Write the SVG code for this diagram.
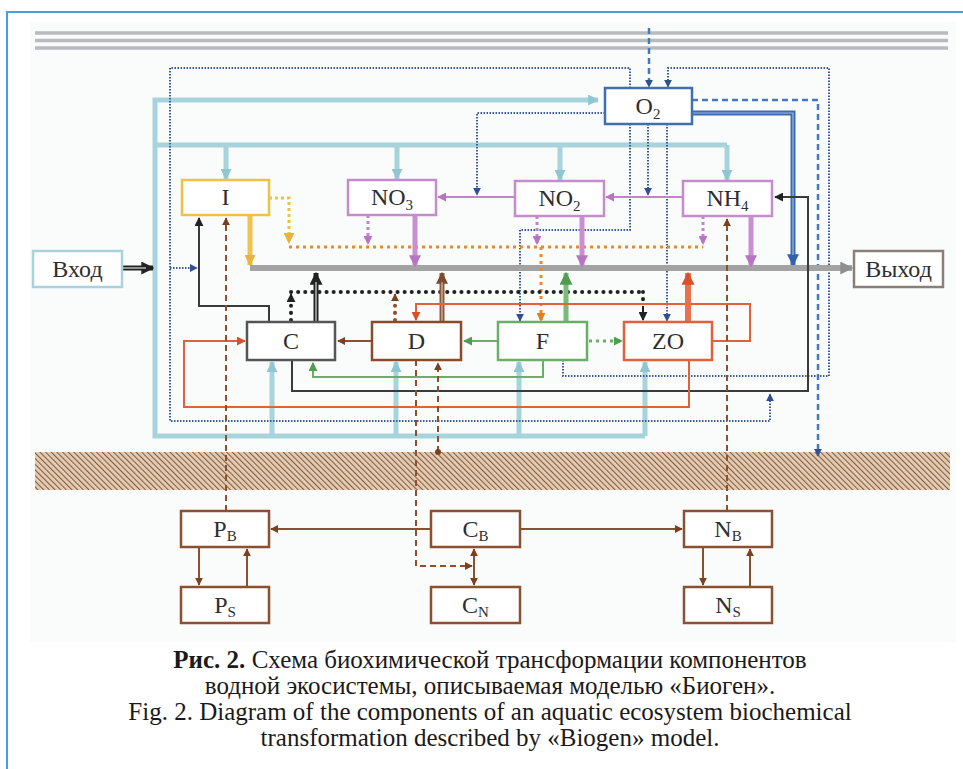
<svg xmlns="http://www.w3.org/2000/svg" width="963" height="769" viewBox="0 0 963 769">
<style>
.box{fill:#fff;stroke-width:2.5}
.lbl{font-family:"Liberation Serif","DejaVu Serif",serif;font-size:24px;fill:#2e2e2e;text-anchor:middle}
.sub{font-size:15px}
.cap{font-family:"Liberation Serif","DejaVu Serif",serif;font-size:25px;fill:#1a1a1a;text-anchor:middle}
.n{fill:none}
.teal{stroke:#a6d3dc;stroke-width:5}
.bdot{stroke:#3a5a9c;stroke-width:2;stroke-dasharray:1.5 1.5}
.bdash{stroke:#4677c2;stroke-width:2.5;stroke-dasharray:6 4}
.bdn{stroke:#8b5030;stroke-width:2;stroke-dasharray:6 4}
.brn{stroke:#8b5030;stroke-width:2}
.dots{stroke-width:4;stroke-linecap:round;stroke-dasharray:0.1 7}
</style>
<defs>
<pattern id="hatch" width="4" height="4" patternUnits="userSpaceOnUse" patternTransform="rotate(-45)">
<rect width="4" height="4" fill="#e2cdb8"/><line x1="0" y1="0" x2="0" y2="4" stroke="#8e5c36" stroke-width="2.2"/>
</pattern>
<marker id="aT" viewBox="0 0 10 10" refX="9" refY="5" markerWidth="11" markerHeight="11" markerUnits="userSpaceOnUse" orient="auto"><path d="M0,0 L10,5 L0,10 z" fill="#8fc6d2"/></marker>
<marker id="aB" viewBox="0 0 10 10" refX="9" refY="5" markerWidth="8" markerHeight="8" markerUnits="userSpaceOnUse" orient="auto"><path d="M0,0 L10,5 L0,10 z" fill="#2f4f8f"/></marker>
<marker id="aBB" viewBox="0 0 10 10" refX="9" refY="5" markerWidth="12" markerHeight="12" markerUnits="userSpaceOnUse" orient="auto"><path d="M0,0 L10,5 L0,10 z" fill="#2f62ad"/></marker>
<marker id="aG" viewBox="0 0 10 10" refX="9" refY="5" markerWidth="13" markerHeight="13" markerUnits="userSpaceOnUse" orient="auto"><path d="M0,0 L10,5 L0,10 z" fill="#8f8f8f"/></marker>
<marker id="aY" viewBox="0 0 10 10" refX="9" refY="5" markerWidth="11" markerHeight="11" markerUnits="userSpaceOnUse" orient="auto"><path d="M0,0 L10,5 L0,10 z" fill="#e8b43a"/></marker>
<marker id="aO" viewBox="0 0 10 10" refX="9" refY="5" markerWidth="9" markerHeight="9" markerUnits="userSpaceOnUse" orient="auto"><path d="M0,0 L10,5 L0,10 z" fill="#e07f22"/></marker>
<marker id="aP" viewBox="0 0 10 10" refX="9" refY="5" markerWidth="9" markerHeight="9" markerUnits="userSpaceOnUse" orient="auto"><path d="M0,0 L10,5 L0,10 z" fill="#b774c2"/></marker>
<marker id="aPB" viewBox="0 0 10 10" refX="9" refY="5" markerWidth="12" markerHeight="12" markerUnits="userSpaceOnUse" orient="auto"><path d="M0,0 L10,5 L0,10 z" fill="#b774c2"/></marker>
<marker id="aK" viewBox="0 0 10 10" refX="9" refY="5" markerWidth="9" markerHeight="9" markerUnits="userSpaceOnUse" orient="auto"><path d="M0,0 L10,5 L0,10 z" fill="#222"/></marker>
<marker id="aKB" viewBox="0 0 10 10" refX="9" refY="5" markerWidth="13" markerHeight="13" markerUnits="userSpaceOnUse" orient="auto"><path d="M0,0 L10,5 L0,10 z" fill="#222"/></marker>
<marker id="aR" viewBox="0 0 10 10" refX="9" refY="5" markerWidth="8" markerHeight="8" markerUnits="userSpaceOnUse" orient="auto-start-reverse"><path d="M0,0 L10,5 L0,10 z" fill="#7a4020"/></marker>
<marker id="aRB" viewBox="0 0 10 10" refX="9" refY="5" markerWidth="12" markerHeight="12" markerUnits="userSpaceOnUse" orient="auto"><path d="M0,0 L10,5 L0,10 z" fill="#7a4a2a"/></marker>
<marker id="aN" viewBox="0 0 10 10" refX="9" refY="5" markerWidth="9" markerHeight="9" markerUnits="userSpaceOnUse" orient="auto"><path d="M0,0 L10,5 L0,10 z" fill="#4f9e4f"/></marker>
<marker id="aNB" viewBox="0 0 10 10" refX="9" refY="5" markerWidth="13" markerHeight="13" markerUnits="userSpaceOnUse" orient="auto"><path d="M0,0 L10,5 L0,10 z" fill="#4f9e4f"/></marker>
<marker id="aE" viewBox="0 0 10 10" refX="9" refY="5" markerWidth="9" markerHeight="9" markerUnits="userSpaceOnUse" orient="auto"><path d="M0,0 L10,5 L0,10 z" fill="#d9502a"/></marker>
<marker id="aEB" viewBox="0 0 10 10" refX="9" refY="5" markerWidth="13" markerHeight="13" markerUnits="userSpaceOnUse" orient="auto"><path d="M0,0 L10,5 L0,10 z" fill="#d9502a"/></marker>
</defs>

<rect x="0" y="0" width="963" height="769" fill="#fff"/>
<rect x="30" y="22" width="926" height="620" fill="#fafbfb"/>
<rect x="7" y="12" width="975" height="780" fill="none" stroke="#4a9dd6" stroke-width="2"/>

<g id="surface">
<line x1="35" y1="33" x2="948" y2="33" stroke="#b7bbbe" stroke-width="3.5"/>
<line x1="35" y1="40.5" x2="948" y2="40.5" stroke="#b7bbbe" stroke-width="3.5"/>
<line x1="35" y1="48" x2="948" y2="48" stroke="#b7bbbe" stroke-width="3.5"/>
</g>
<g id="sediment">
<rect x="35" y="452" width="915" height="38" fill="url(#hatch)"/>
</g>

<g id="connectors" class="n">
<!-- teal -->
<path class="teal" d="M645,436 H155 V100 H598" marker-end="url(#aT)"/>
<path class="teal" d="M155,145 H727"/>
<path class="teal" d="M226,145 V179" marker-end="url(#aT)"/>
<path class="teal" d="M397,145 V179" marker-end="url(#aT)"/>
<path class="teal" d="M560,145 V180" marker-end="url(#aT)"/>
<path class="teal" d="M727,145 V180" marker-end="url(#aT)"/>
<path class="teal" d="M272,436 V362" marker-end="url(#aT)"/>
<path class="teal" d="M396,436 V362" marker-end="url(#aT)"/>
<path class="teal" d="M519,436 V362" marker-end="url(#aT)"/>
<path class="teal" d="M645,436 V362" marker-end="url(#aT)"/>
<!-- blue dotted -->
<path class="bdot" d="M630,88 V68 H170 V421 H770 V394" marker-end="url(#aB)"/>
<path class="bdot" d="M563,360 V376 H829 V68 H668 V87" marker-end="url(#aB)"/>
<path class="bdot" d="M605,113 H477 V195" marker-end="url(#aB)"/>
<path class="bdot" d="M648,124 V195" marker-end="url(#aB)"/>
<path class="bdot" d="M630,124 V230 H520 V321" marker-end="url(#aB)"/>
<path class="bdot" d="M667,124 V321" marker-end="url(#aB)"/>
<path class="bdot" d="M170,268 H197" marker-end="url(#aB)"/>
<!-- blue dashed -->
<path class="bdash" d="M649,28 V87" marker-end="url(#aB)"/>
<path class="bdash" d="M692,100 H818 V456" marker-end="url(#aB)"/>
<!-- blue thick -->
<path d="M692,113 H793 V265" stroke="#3b6bb0" stroke-width="5" marker-end="url(#aBB)"/>
<path d="M692,113 H793 V255" stroke="#9bb8e0" stroke-width="1.2"/>
<!-- input arrow -->
<path d="M123,268 H153" stroke="#222" stroke-width="5" marker-end="url(#aKB)"/>
<path d="M123,268 H146" stroke="#fff" stroke-width="1"/>
<!-- main output line -->
<path d="M250,268 H852" stroke="#a3a3a3" stroke-width="6" marker-end="url(#aG)"/>
<!-- yellow -->
<path d="M250,215 V265" stroke="#f0c24e" stroke-width="5" marker-end="url(#aY)"/>
<path d="M269,198 H289 V243" stroke="#f0c04a" stroke-width="3" stroke-dasharray="3 3" marker-end="url(#aY)"/>
<!-- orange dotted -->
<path d="M289,247 H703" stroke="#e8892e" stroke-width="3" stroke-dasharray="3 4"/>
<path d="M541,247 V321" stroke="#e8892e" stroke-width="3" stroke-dasharray="3 4" marker-end="url(#aO)"/>
<!-- pink -->
<path d="M368,215 V244" stroke="#c283cc" stroke-width="3" stroke-dasharray="3 3" marker-end="url(#aP)"/>
<path d="M537,216 V244" stroke="#c283cc" stroke-width="3" stroke-dasharray="3 3" marker-end="url(#aP)"/>
<path d="M703,216 V244" stroke="#c283cc" stroke-width="3" stroke-dasharray="3 3" marker-end="url(#aP)"/>
<path d="M515,197 H438" stroke="#c283cc" stroke-width="2" marker-end="url(#aP)"/>
<path d="M683,197 H606" stroke="#c283cc" stroke-width="2" marker-end="url(#aP)"/>
<path d="M415,215 V266" stroke="#c98fd2" stroke-width="5" marker-end="url(#aPB)"/>
<path d="M582,216 V266" stroke="#c98fd2" stroke-width="5" marker-end="url(#aPB)"/>
<path d="M751,216 V266" stroke="#c98fd2" stroke-width="5" marker-end="url(#aPB)"/>
<!-- black -->
<path d="M269,322 V306 H199 V218" stroke="#3a3a3a" stroke-width="2" marker-end="url(#aK)"/>
<path d="M292,360 V391 H808 V197 H775" stroke="#3a3a3a" stroke-width="2" marker-end="url(#aK)"/>
<path d="M316,322 V273" stroke="#222" stroke-width="5" marker-end="url(#aKB)"/>
<path d="M316,322 V282" stroke="#fff" stroke-width="1"/>
<path class="dots" d="M291,320 V300" stroke="#222"/>
<path d="M291,300 V294" stroke="#222" stroke-width="2" marker-end="url(#aK)"/>
<path class="dots" d="M291,292 H643" stroke="#222"/>
<path class="dots" d="M643,292 V306" stroke="#222"/>
<path d="M643,306 V320" stroke="#222" stroke-width="2" marker-end="url(#aK)"/>
<!-- brown -->
<path class="dots" d="M395,320 V300" stroke="#8b5030"/>
<path d="M395,300 V294" stroke="#8b5030" stroke-width="2" marker-end="url(#aR)"/>
<path d="M372,341 H338" stroke="#8b5030" stroke-width="2" marker-end="url(#aR)"/>
<path d="M442,322 V273" stroke="#8e5a3a" stroke-width="5" marker-end="url(#aRB)"/>
<path d="M442,322 V282" stroke="#e8d0c0" stroke-width="1"/>
<!-- green -->
<path d="M498,341 H464" stroke="#6aae6a" stroke-width="2" marker-end="url(#aN)"/>
<path d="M543,360 V377 H313 V363" stroke="#6aae6a" stroke-width="2" marker-end="url(#aN)"/>
<path d="M589,341 H622" stroke="#6aae6a" stroke-width="3" stroke-dasharray="3 4" marker-end="url(#aN)"/>
<path d="M566,322 V273" stroke="#7abb7a" stroke-width="5" marker-end="url(#aNB)"/>
<!-- red -->
<path d="M689,360 V407 H184 V341 H245" stroke="#e2603a" stroke-width="2" marker-end="url(#aE)"/>
<path d="M712,341 H750 V304 H416 V320" stroke="#e2603a" stroke-width="2" marker-end="url(#aE)"/>
<path d="M688,322 V273" stroke="#e8704a" stroke-width="6" marker-end="url(#aEB)"/>
<!-- brown dashed -->
<path class="bdn" d="M226,511 V218" marker-end="url(#aR)"/>
<path class="bdn" d="M727,511 V219" marker-end="url(#aR)"/>
<path class="bdn" d="M416,360 V566 H472" marker-end="url(#aR)"/>
<path class="bdn" d="M438,452 V363" marker-end="url(#aR)"/>
<circle cx="438" cy="452" r="3" fill="#7a4020"/>
<!-- sediment solid -->
<path class="brn" d="M431,529 H271" marker-end="url(#aR)"/>
<path class="brn" d="M520,529 H682" marker-end="url(#aR)"/>
<path class="brn" d="M199,547 V585" marker-end="url(#aR)"/>
<path class="brn" d="M247,587 V549" marker-end="url(#aR)"/>
<path class="brn" d="M703,547 V585" marker-end="url(#aR)"/>
<path class="brn" d="M750,587 V549" marker-end="url(#aR)"/>
<path class="brn" d="M474,549 V585" marker-start="url(#aR)" marker-end="url(#aR)"/>
</g>

<g id="node-O2"><rect class="box" x="605" y="88" width="87" height="36" stroke="#3f6fb0"/><text class="lbl" x="648" y="114">O<tspan class="sub" dy="5">2</tspan></text></g>
<g id="node-I"><rect class="box" x="182" y="180" width="87" height="35" stroke="#f0c048"/><text class="lbl" x="225.5" y="205">I</text></g>
<g id="node-NO3"><rect class="box" x="348" y="180" width="88" height="35" stroke="#c58ccd"/><text class="lbl" x="392" y="205">NO<tspan class="sub" dy="5">3</tspan></text></g>
<g id="node-NO2"><rect class="box" x="515" y="181" width="89" height="35" stroke="#c58ccd"/><text class="lbl" x="559.5" y="206">NO<tspan class="sub" dy="5">2</tspan></text></g>
<g id="node-NH4"><rect class="box" x="683" y="181" width="89" height="35" stroke="#c58ccd"/><text class="lbl" x="727.5" y="206">NH<tspan class="sub" dy="5">4</tspan></text></g>
<g id="node-C"><rect class="box" x="247" y="322" width="88" height="38" stroke="#555"/><text class="lbl" x="291" y="349">C</text></g>
<g id="node-D"><rect class="box" x="372" y="322" width="89" height="38" stroke="#8b4a2b"/><text class="lbl" x="416.5" y="349">D</text></g>
<g id="node-F"><rect class="box" x="498" y="322" width="89" height="38" stroke="#6aae6a"/><text class="lbl" x="542.5" y="349">F</text></g>
<g id="node-ZO"><rect class="box" x="624" y="322" width="88" height="38" stroke="#e2603a"/><text class="lbl" x="668" y="349">ZO</text></g>
<g id="node-in"><rect class="box" x="33" y="251" width="89" height="36" stroke="#a8d3dc"/><text class="lbl" x="77.5" y="277">Вход</text></g>
<g id="node-out"><rect class="box" x="854" y="251" width="89" height="36" stroke="#8a807a"/><text class="lbl" x="898.5" y="277">Выход</text></g>
<g id="node-PB"><rect class="box" x="181" y="511" width="88" height="36" stroke="#8b5030"/><text class="lbl" x="225" y="537">P<tspan class="sub" dy="4">B</tspan></text></g>
<g id="node-PS"><rect class="box" x="181" y="587" width="88" height="36" stroke="#8b5030"/><text class="lbl" x="225" y="613">P<tspan class="sub" dy="4">S</tspan></text></g>
<g id="node-CB"><rect class="box" x="431" y="511" width="89" height="36" stroke="#8b5030"/><text class="lbl" x="475.5" y="537">C<tspan class="sub" dy="4">B</tspan></text></g>
<g id="node-CN"><rect class="box" x="431" y="587" width="89" height="36" stroke="#8b5030"/><text class="lbl" x="475.5" y="613">C<tspan class="sub" dy="4">N</tspan></text></g>
<g id="node-NB"><rect class="box" x="684" y="511" width="88" height="36" stroke="#8b5030"/><text class="lbl" x="728" y="537">N<tspan class="sub" dy="4">B</tspan></text></g>
<g id="node-NS"><rect class="box" x="684" y="587" width="88" height="36" stroke="#8b5030"/><text class="lbl" x="728" y="613">N<tspan class="sub" dy="4">S</tspan></text></g>

<g id="caption">
<text class="cap" x="490" y="668"><tspan font-weight="bold">Рис. 2.</tspan> Схема биохимической трансформации компонентов</text>
<text class="cap" x="490" y="694">водной экосистемы, описываемая моделью «Биоген».</text>
<text class="cap" x="490" y="720">Fig. 2. Diagram of the components of an aquatic ecosystem biochemical</text>
<text class="cap" x="490" y="746">transformation described by «Biogen» model.</text>
</g>
</svg>
